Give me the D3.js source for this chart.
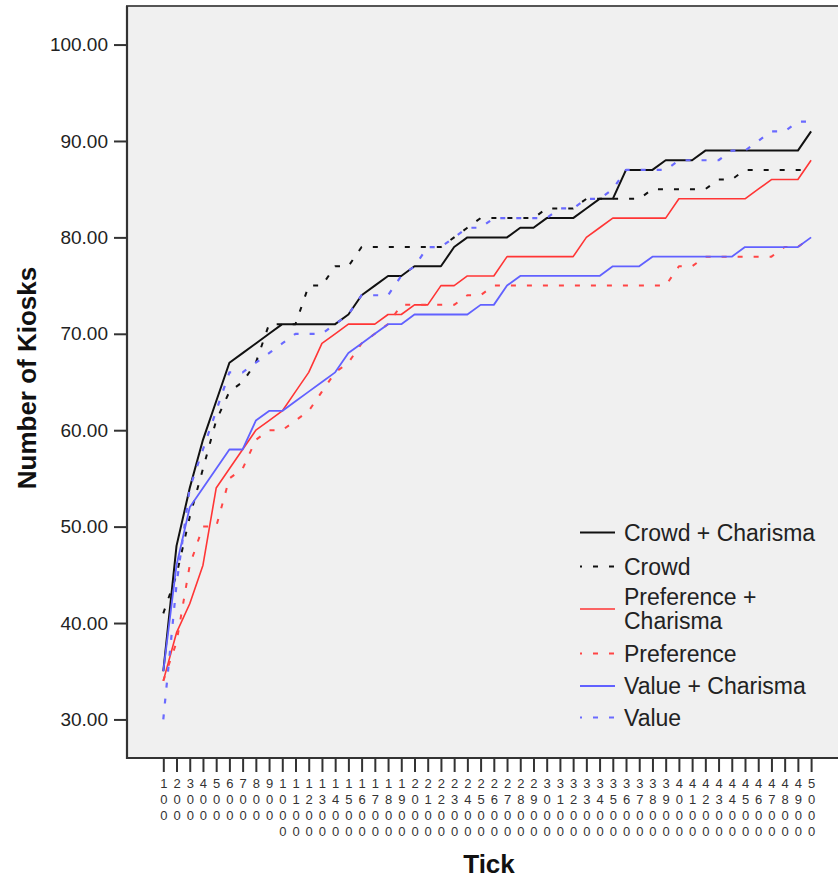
<!DOCTYPE html>
<html><head><meta charset="utf-8">
<script src="https://cdn.jsdelivr.net/npm/d3@7"></script>
<style>
html,body{margin:0;padding:0;background:#fff;}
svg{display:block;font-family:"Liberation Sans",Arial,sans-serif;}
</style></head>
<body>
<svg id="chart" width="838" height="880"></svg>
<script>
const ticks = ["100","200","300","400","500","600","700","800","900","1000",
"1100","1200","1300","1400","1500","1600","1700","1800","1900","2000",
"2100","2200","2300","2400","2500","2600","2700","2800","2900","3000",
"3100","3200","3300","3400","3500","3600","3700","3800","3900","4000",
"4100","4200","4300","4400","4500","4600","4700","4800","4900","5000"];
const yTicks = [30,40,50,60,70,80,90,100];
const seriesNames = ["Crowd + Charisma","Crowd","Preference + Charisma","Preference","Value + Charisma","Value"];
const crowdCharisma = [35,48,54,59,63,67,68,69,70,71, 71,71,71,71,72,74,75,76,76,77, 77,77,79,80,80,80,80,81,81,82, 82,82,83,84,84,87,87,87,88,88, 88,89,89,89,89,89,89,89,89,91];
const crowd = [41,45,51,56,61,64,65,67,71,71, 71,75,75,77,77,79,79,79,79,79, 79,79,80,81,82,82,82,82,82,83, 83,83,84,84,84,84,84,85,85,85, 85,85,86,86,87,87,87,87,87,87];
const prefCharisma = [34,39,42,46,54,56,58,60,61,62, 64,66,69,70,71,71,71,72,72,73, 73,75,75,76,76,76,78,78,78,78, 78,78,80,81,82,82,82,82,82,84, 84,84,84,84,84,85,86,86,86,88];
const preference = [34,38,46,50,50,55,56,59,60,60, 61,62,64,66,67,69,70,71,73,73, 73,73,73,74,74,75,75,75,75,75, 75,75,75,75,75,75,75,75,75,77, 77,78,78,78,78,78,78,79,79,80];
const valueCharisma = [35,46,52,54,56,58,58,61,62,62, 63,64,65,66,68,69,70,71,71,72, 72,72,72,72,73,73,75,76,76,76, 76,76,76,76,77,77,77,78,78,78, 78,78,78,78,79,79,79,79,79,80];
const value = [30,44,54,58,62,66,66,67,68,69, 70,70,70,71,72,74,74,74,76,77, 79,79,80,81,81,82,82,82,82,82, 83,83,84,84,85,87,87,87,87,88, 88,88,88,89,89,90,91,91,92,92];

const seriesData = [crowdCharisma, crowd, prefCharisma, preference, valueCharisma, value];
const styles = [
  {color:"#111", dash:null, w:2},
  {color:"#111", dash:"5,11", w:2},
  {color:"#ff3535", dash:null, w:1.6},
  {color:"#ff4545", dash:"5,11", w:2},
  {color:"#6161ff", dash:null, w:1.8},
  {color:"#6a6aff", dash:"5,11", w:2.2}
];

const svg = d3.select("#chart");
const plot = {left:127, top:6, right:850, bottom:758};

// plot background box
svg.append("rect").attr("x",plot.left).attr("y",plot.top)
  .attr("width",plot.right-plot.left).attr("height",plot.bottom-plot.top)
  .attr("fill","#f0f0f0").attr("stroke","#555").attr("stroke-width",2);

const x = d3.scalePoint().domain(ticks).range([163.3, 811.1]);
const y = d3.scaleLinear().domain([26,104]).range([plot.bottom, plot.top]);

// y axis
const yAxis = svg.append("g").attr("transform",`translate(${plot.left},0)`)
  .call(d3.axisLeft(y).tickValues(yTicks).tickFormat(d3.format(".2f")).tickSize(13).tickPadding(6));
yAxis.select(".domain").remove();
yAxis.selectAll(".tick line").attr("stroke","#333").attr("stroke-width",2);
yAxis.selectAll(".tick text").attr("font-size","19px").attr("fill","#222")
  .attr("font-family","'Liberation Sans',Arial,sans-serif");

// x axis
const xAxis = svg.append("g").attr("transform",`translate(0,${plot.bottom})`)
  .call(d3.axisBottom(x).tickSize(14).tickFormat(""));
xAxis.select(".domain").remove();
xAxis.selectAll(".tick line").attr("stroke","#333").attr("stroke-width",2);
xAxis.selectAll(".tick text").each(function(d){
  const t = d3.select(this);
  t.text(null).attr("y",0).attr("dy",null)
   .attr("font-size","13px").attr("fill","#333")
   .attr("font-family","'Liberation Sans',Arial,sans-serif");
  d.split("").forEach((ch,i)=>{
    t.append("tspan").attr("x",0).attr("y",30+i*16).text(ch);
  });
});

// axis lines on top
svg.append("line").attr("x1",plot.left).attr("x2",plot.left).attr("y1",plot.top).attr("y2",plot.bottom+1)
  .attr("stroke","#333").attr("stroke-width",2.2);
svg.append("line").attr("x1",plot.left-1).attr("x2",plot.right).attr("y1",plot.bottom).attr("y2",plot.bottom)
  .attr("stroke","#333").attr("stroke-width",2.2);

// lines
const line = d3.line().x((d,i)=>x(ticks[i])).y(d=>y(d));
seriesData.forEach((s,k)=>{
  const st = styles[k];
  svg.append("path").datum(s).attr("d",line).attr("fill","none")
    .attr("stroke",st.color).attr("stroke-width",st.w)
    .attr("stroke-dasharray",st.dash).attr("stroke-linejoin","round");
});

// axis titles
svg.append("text").attr("x",489).attr("y",873).attr("text-anchor","middle")
  .attr("font-size","26px").attr("font-weight","bold").attr("fill","#111").text("Tick");
svg.append("text").attr("transform","translate(36,378) rotate(-90)").attr("text-anchor","middle")
  .attr("font-size","26px").attr("font-weight","bold").attr("fill","#111").text("Number of Kiosks");

// legend
const legendRows = [
  {lines:["Crowd + Charisma"], y:532.5},
  {lines:["Crowd"], y:566.5},
  {lines:["Preference +","Charisma"], y:609},
  {lines:["Preference"], y:653.5},
  {lines:["Value + Charisma"], y:686},
  {lines:["Value"], y:717.5}
];
const lg = svg.append("g");
legendRows.forEach((r,k)=>{
  const st = styles[k];
  lg.append("line").attr("x1",580).attr("x2",615).attr("y1",r.y).attr("y2",r.y)
    .attr("stroke",st.color).attr("stroke-width",st.w)
    .attr("stroke-dasharray",st.dash).attr("stroke-dashoffset",st.dash?3:null);
  const n = r.lines.length;
  r.lines.forEach((t,i)=>{
    lg.append("text").attr("x",624).attr("y",r.y + (i-(n-1)/2)*23.5 + 8)
      .attr("font-size","23px").attr("fill","#222").text(t);
  });
});
</script>
</body></html>
